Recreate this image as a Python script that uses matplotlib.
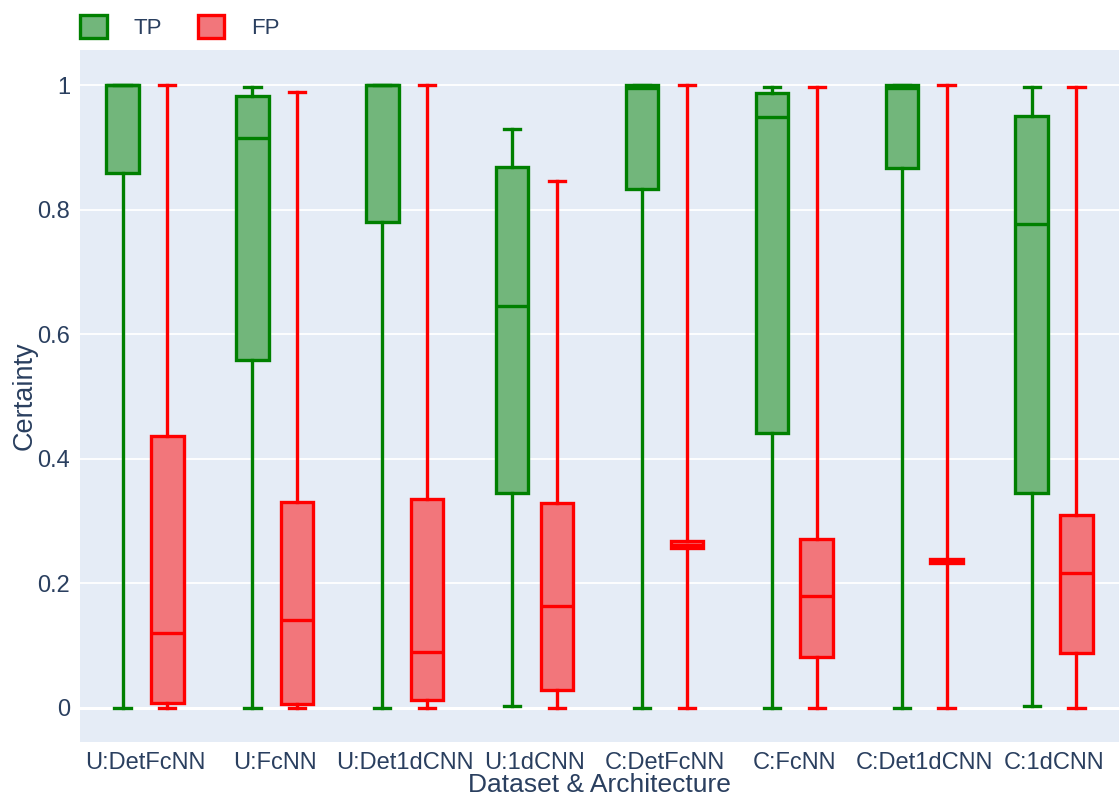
import numpy as np
import matplotlib
matplotlib.use("Agg")
import matplotlib.pyplot as plt
from matplotlib.patches import Patch

plt.rcParams['font.family'] = ['Liberation Sans', 'DejaVu Sans']

categories = ["U:DetFcNN", "U:FcNN", "U:Det1dCNN", "U:1dCNN",
              "C:DetFcNN", "C:FcNN", "C:Det1dCNN", "C:1dCNN"]

# whisker low, q1, median, q3, whisker high
tp_low = [0.0, 0.0, 0.0, 0.003, 0.0, 0.0, 0.0, 0.003]
tp_q1 = [0.859, 0.559, 0.780, 0.345, 0.833, 0.441, 0.867, 0.345]
tp_med = [1.0, 0.915, 1.0, 0.645, 0.995, 0.949, 0.995, 0.777]
tp_q3 = [1.0, 0.982, 1.0, 0.868, 1.0, 0.987, 1.0, 0.950]
tp_high = [1.0, 0.997, 1.0, 0.929, 1.0, 0.997, 1.0, 0.997]

fp_low = [0.0, 0.0, 0.0, 0.0, 0.0, 0.0, 0.0, 0.0]
fp_q1 = [0.008, 0.006, 0.013, 0.029, 0.257, 0.082, 0.233, 0.087]
fp_med = [0.120, 0.141, 0.090, 0.164, 0.262, 0.180, 0.236, 0.217]
fp_q3 = [0.437, 0.331, 0.335, 0.329, 0.268, 0.271, 0.238, 0.310]
fp_high = [1.0, 0.989, 1.0, 0.846, 1.0, 0.997, 1.0, 0.997]

bg = "#E5ECF6"
txt = "#2a3f5f"


def make_stats(lo, q1, med, q3, hi):
    return [dict(whislo=a, q1=b, med=c, q3=d, whishi=e, fliers=[])
            for a, b, c, d, e in zip(lo, q1, med, q3, hi)]


fig = plt.figure(figsize=(11.19, 7.96), dpi=100)
ax = fig.add_axes([0.0715, 0.068, 0.9285, 0.869])
ax.set_facecolor(bg)

x = np.arange(len(categories))
bw = 0.25
off = 0.172

for stats, shift, col, fill in [
    (make_stats(tp_low, tp_q1, tp_med, tp_q3, tp_high), -off, "green", "#72B67B"),
    (make_stats(fp_low, fp_q1, fp_med, fp_q3, fp_high), off, "red", "#F2767B"),
]:
    ax.bxp(stats, positions=x + shift, widths=bw, capwidths=bw / 2,
           showfliers=False, patch_artist=True, manage_ticks=False,
           boxprops=dict(facecolor=fill, edgecolor=col, linewidth=2.4),
           medianprops=dict(color=col, linewidth=2.4),
           whiskerprops=dict(color=col, linewidth=2.4),
           capprops=dict(color=col, linewidth=2.4), zorder=3)

ax.set_xlim(-0.5, len(categories) - 0.5)
ax.set_ylim(-0.055, 1.056)
ax.set_yticks([0, 0.2, 0.4, 0.6, 0.8, 1.0])
ax.set_yticklabels(["0", "0.2", "0.4", "0.6", "0.8", "1"])
ax.set_xticks(x)
ax.set_xticklabels(categories)
ax.grid(axis="y", color="white", linewidth=1.3, zorder=0)
ax.axhline(0, color="white", linewidth=2.2, zorder=1)
ax.set_axisbelow(True)
for s in ax.spines.values():
    s.set_visible(False)
ax.tick_params(length=0, labelsize=17, labelcolor=txt, pad=7)
ax.set_xlabel("Dataset & Architecture", fontsize=19, color=txt, labelpad=-0.5)
ax.set_ylabel("Certainty", fontsize=19.5, color=txt, labelpad=0)

handles = [Patch(facecolor="#72B67B", edgecolor="green", linewidth=2.4, label="TP"),
           Patch(facecolor="#F2767B", edgecolor="red", linewidth=2.4, label="FP")]
fig.legend(handles=handles, loc="upper left", bbox_to_anchor=(0.054, 1.006),
           ncol=2, frameon=False, fontsize=16, handlelength=1.2, handleheight=1.2,
           columnspacing=1.6, handletextpad=1.2, labelcolor=txt)

fig.savefig("out.png", dpi=100)
